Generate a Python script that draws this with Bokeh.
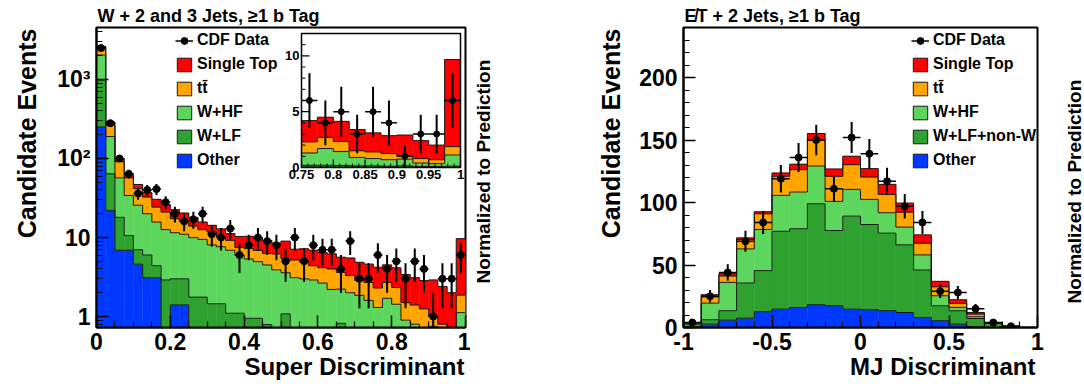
import math
import numpy as np
from bokeh.plotting import figure
from bokeh.layouts import row
from bokeh.models import (Range1d, LinearScale, FixedTicker, Legend, LegendItem, Title)
from bokeh.core.properties import value
from bokeh.embed import file_html
from bokeh.resources import INLINE

FONT = "Liberation Sans"

# ---------------- Left panel: Super Discriminant (40 bins, width 0.025) ----------------
sd_bin_lo = [0.000, 0.025, 0.050, 0.075, 0.100, 0.125, 0.150, 0.175, 0.200, 0.225,
             0.250, 0.275, 0.300, 0.325, 0.350, 0.375, 0.400, 0.425, 0.450, 0.475,
             0.500, 0.525, 0.550, 0.575, 0.600, 0.625, 0.650, 0.675, 0.700, 0.725,
             0.750, 0.775, 0.800, 0.825, 0.850, 0.875, 0.900, 0.925, 0.950, 0.975]
sd_bin_width = 0.025
sd_other = [250, 22, 6.9, 6.9, 4.6, 3.1, 3.1, 0.5, 1.4, 1.4,
            0.35, 0.3, 0.25, 0.2, 0.2, 0.15, 0.15, 0.12, 0.1, 0.1,
            0.1, 0.08, 0.08, 0.07, 0.06, 0.05, 0.05, 0.05, 0.04, 0.04,
            0.04, 0.03, 0.03, 0.03, 0.02, 0.02, 0.02, 0.02, 0.02, 0.02]
sd_wlf = [730, 42, 11.1, 3.7, 2.4, 2.9, 1.3, 2.4, 1.6, 1.6,
          1.41, 1.46, 1.2, 1.25, 0.9, 0.95, 0.8, 0.83, 0.69, 0.5,
          0.98, 0.52, 0.42, 0.43, 0.39, 0.35, 0.77, 0.35, 0.31, 0.26,
          0.16, 0.17, 0.15, 0.12, 0.13, 0.1, 0.13, 0.08, 0.08, 0.1]
sd_whf = [1060, 126, 39, 23.4, 18.6, 14, 11.3, 9.7, 8.5, 8.0,
          8.2, 7.7, 6.6, 6.2, 5.8, 4.9, 4.4, 4.0, 3.7, 3.3,
          2.5, 2.5, 2.5, 2.4, 2.2, 1.8, 1.4, 1.6, 1.5, 1.3,
          1.1, 1.5, 1.25, 0.75, 0.65, 0.58, 0.6, 0.3, 0.25, 1.0]
sd_tt = [520, 73, 34, 23, 16, 12.5, 8.6, 8.4, 5.8, 5.0,
         4.0, 3.1, 3.7, 2.6, 2.3, 1.5, 1.9, 1.9, 1.8, 2.3,
         1.8, 2.1, 1.9, 1.5, 1.5, 1.8, 1.4, 1.3, 1.0, 1.1,
         1.0, 1.0, 0.9, 0.6, 0.6, 0.55, 0.25, 0.4, 0.35, 0.75]
sd_stop = [60, 27, 9, 7, 5.3, 4.5, 6.1, 5.0, 5.2, 4.4,
           4.0, 3.1, 2.5, 2.6, 2.0, 2.8, 3.1, 3.0, 2.9, 2.3,
           3.6, 1.9, 2.3, 2.5, 2.3, 2.2, 2.0, 2.2, 2.0, 1.9,
           1.9, 1.8, 1.8, 1.9, 1.7, 1.6, 1.9, 1.6, 1.3, 7.8]
sd_data = [2500, 280, 100, 64, 36, 40, 41, 28, 20, 16,
           17, 20, 11, 10, 13, 6, 8, 10, 9, 8,
           5, 10, 5, 8, 7, 7, 4, 9, 3, 3,
           6, 4, 5, 3, 5, 4, 1, 3, 3, 6]
sd_xticks = [0, 0.2, 0.4, 0.6, 0.8, 1.0]
sd_xlabels = ["0", "0.2", "0.4", "0.6", "0.8", "1"]
sd_yticks = [1, 10, 100, 1000]
sd_ylabels = ["1", "10", "10\u00b2", "10\u00b3"]
inset_xticks = [0.75, 0.8, 0.85, 0.9, 0.95, 1.0]
inset_xlabels = ["0.75", "0.8", "0.85", "0.9", "0.95", "1"]
inset_yticks = [0, 5, 10]
inset_ylabels = ["0", "5", "10"]

# ---------------- Right panel: MJ Discriminant (20 bins, width 0.1) ----------------
mj_bin_lo = [-1.0, -0.9, -0.8, -0.7, -0.6, -0.5, -0.4, -0.3, -0.2, -0.1,
             0.0, 0.1, 0.2, 0.3, 0.4, 0.5, 0.6, 0.7, 0.8, 0.9]
mj_bin_width = 0.1
mj_other = [0.5, 2.7, 5.9, 7.5, 12.6, 14.7, 16.0, 18.2, 17.4, 14.7,
            14.2, 13.4, 12.0, 8.0, 5.4, 2.7, 0.8, 0.3, 0.1, 0.0]
mj_wlf = [2.2, 3.5, 7.5, 28.1, 32.9, 62.3, 63.0, 80.8, 60.2, 74.4,
          68.2, 62.1, 54.1, 38.0, 12.0, 10.7, 6.4, 2.9, 0.7, 0.0]
mj_whf = [0.8, 13.3, 22.7, 27.3, 32.9, 28.7, 29.4, 30.2, 23.3, 21.4,
          20.1, 16.3, 14.2, 12.1, 8.0, 2.7, 1.4, 0.3, 0.1, 0.0]
mj_tt = [0.3, 5.0, 5.1, 7.5, 12.6, 15.3, 17.9, 20.7, 20.1, 19.8,
         17.9, 14.7, 12.0, 9.3, 7.2, 3.2, 2.1, 0.2, 0.1, 0.0]
mj_stop = [0.2, 1.7, 1.8, 1.3, 1.6, 2.6, 4.3, 5.3, 5.8, 6.7,
           6.7, 8.0, 7.2, 6.7, 4.3, 2.9, 1.3, 0.2, 0.0, 0.0]
mj_data = [4, 25, 44, 69, 84, 119, 136, 150, 111, 152,
           139, 117, 97, 84, 29, 28, 15, 4, 1, 0]
mj_xticks = [-1, -0.5, 0, 0.5, 1]
mj_xlabels = ["-1", "-0.5", "0", "0.5", "1"]
mj_yticks = [0, 50, 100, 150, 200]
mj_ylabels = ["0", "50", "100", "150", "200"]

left_legend = ["Single Top", "tt\u0304", "W+HF", "W+LF", "Other"]
right_legend = ["Single Top", "tt\u0304", "W+HF", "W+LF+non-W", "Other"]
COLORS = ["#FF0000", "#FFA500", "#5CD65C", "#2EA12E", "#0038FF"]  # stop, tt, whf, wlf, other
EDGE = "#1a1a1a"
NAN = float("nan")

# ---------------- helpers ----------------
def draw_stack(p, lo, width, layers, colors, floor, **rn):
    lo = np.array(lo, float)
    right = lo + width
    cum = np.zeros(len(lo))
    tops = []
    for vals, col in zip(layers, colors):
        top = cum + np.array(vals, float)
        p.quad(left=lo, right=right, bottom=np.maximum(cum, floor), top=np.maximum(top, floor),
               fill_color=col, line_color=col, line_width=0.5, **rn)
        tops.append(top)
        cum = top
    edges = list(lo) + [right[-1]]
    for top in tops:
        yy = list(np.maximum(top, floor)) + [max(top[-1], floor)]
        p.step(x=edges, y=yy, mode="after", line_color=EDGE, line_width=1, **rn)


def draw_data(p, lo, width, data, floor, size, **rn):
    d = np.array(data, float)
    c = np.array(lo, float) + width / 2
    m = d > 0
    d, c = d[m], c[m]
    err = np.sqrt(d)
    p.segment(x0=c, y0=np.maximum(d - err, floor), x1=c, y1=d + err,
              line_color="black", line_width=2, **rn)
    h = p.segment(x0=c - width / 2, y0=d, x1=c + width / 2, y1=d,
                  line_color="black", line_width=1.5, **rn)
    s = p.scatter(x=c, y=d, size=size, color="black", **rn)
    return [h, s]


def style_axes(p, xt, xl, xminor, yt, yl, yminor):
    p.xaxis.ticker = FixedTicker(ticks=xt, minor_ticks=xminor)
    p.yaxis.ticker = FixedTicker(ticks=yt, minor_ticks=yminor)
    p.xaxis.major_label_overrides = {t: s for t, s in zip(xt, xl)}
    p.yaxis.major_label_overrides = {t: s for t, s in zip(yt, yl)}
    for ax in p.axis:
        ax.major_tick_in = 12
        ax.major_tick_out = 0
        ax.minor_tick_in = 6
        ax.minor_tick_out = 0
        ax.axis_line_width = 2
        ax.major_tick_line_width = 1.5
        ax.minor_tick_line_width = 1.2
        ax.major_label_text_font = FONT
        ax.major_label_text_font_style = "bold"
        ax.major_label_text_font_size = "23px"
        ax.major_label_text_color = "black"
    p.xaxis.major_label_standoff = 5
    p.yaxis.major_label_standoff = 6
    p.xgrid.visible = False
    p.ygrid.visible = False
    p.outline_line_color = "black"
    p.outline_line_width = 2


def side_title(p, side, text, size, align, valign, standoff, offset=0):
    p.add_layout(Title(text=text, align=align, vertical_align=valign, standoff=standoff,
                       offset=offset, text_font=FONT, text_font_style="bold",
                       text_font_size=size, text_color="black"), side)


def set_title(p, text):
    p.title.text = text
    p.title.align = "left"
    p.title.text_font = FONT
    p.title.text_font_style = "bold"
    p.title.text_font_size = "18px"
    p.title.text_color = "black"
    p.title.standoff = 4
    p.title.offset = 1


def add_legend(p, labels, data_rends, x, y):
    items = [LegendItem(label="CDF Data", renderers=data_rends)]
    for lab, col in zip(labels, COLORS):
        # legend swatch only (NaN geometry draws nothing in the plot area)
        r = p.quad(left=[NAN], right=[NAN], top=[NAN], bottom=[NAN],
                   fill_color=col, line_color=EDGE, line_width=1)
        items.append(LegendItem(label=lab, renderers=[r]))
    leg = Legend(items=items, location=(x, y), glyph_width=18, glyph_height=17,
                 label_height=17, spacing=6, padding=0, margin=0, label_standoff=4,
                 label_text_font=FONT, label_text_font_style="bold", label_text_font_size="16px",
                 label_text_color="black", border_line_alpha=0, background_fill_alpha=0)
    p.add_layout(leg)


def side_label_figure(text, offset):
    """Narrow strip that only carries a vertical side text reading bottom-to-top."""
    f = figure(frame_width=1, frame_height=300, output_backend="svg", toolbar_location=None,
               x_axis_location=None, y_axis_location=None,
               min_border_left=24, min_border_right=0, min_border_top=27, min_border_bottom=62,
               background_fill_color="white", border_fill_color="white", outline_line_color=None)
    f.xgrid.visible = False
    f.ygrid.visible = False
    side_title(f, "left", text, "19px", "left", "middle", 0, offset)
    return f

# ---------------- left figure ----------------
FW1, FH = 369, 300
p1 = figure(frame_width=FW1, frame_height=FH, x_range=Range1d(0, 1), y_range=Range1d(0.726, 4550),
            y_axis_type="log", output_backend="svg", toolbar_location=None,
            min_border_left=94, min_border_right=5, min_border_top=27, min_border_bottom=62,
            background_fill_color="white", border_fill_color="white")
style_axes(p1, sd_xticks, sd_xlabels,
           [0.05, 0.1, 0.15, 0.25, 0.3, 0.35, 0.45, 0.5, 0.55, 0.65, 0.7, 0.75, 0.85, 0.9, 0.95],
           sd_yticks, sd_ylabels,
           [0.8, 0.9] + [k * 10 ** e for e in range(0, 3) for k in range(2, 10)] + [2000, 3000, 4000])

layers_sd = [sd_other, sd_wlf, sd_whf, sd_tt, sd_stop]
colors_stack = COLORS[::-1]
draw_stack(p1, sd_bin_lo, sd_bin_width, layers_sd, colors_stack, 0.01)
data1 = draw_data(p1, sd_bin_lo, sd_bin_width, sd_data, 0.1, 7)

# inset (linear scales mapped onto a sub-rectangle of the frame)
in_l, in_r, in_t, in_b = 205, 364, 6, 140   # px inside frame
kx = (inset_xticks[-1] - inset_xticks[0]) / (in_r - in_l)
ky = 12.0 / (in_b - in_t)
p1.extra_x_ranges = {"ix": Range1d(inset_xticks[0] - in_l * kx, inset_xticks[0] + (FW1 - in_l) * kx)}
p1.extra_y_ranges = {"iy": Range1d(-(FH - in_b) * ky, 12 + in_t * ky)}
p1.extra_x_scales = {"ix": LinearScale()}
p1.extra_y_scales = {"iy": LinearScale()}
rn = dict(x_range_name="ix", y_range_name="iy")
p1.quad(left=[0.75], right=[1.0], bottom=[0], top=[12], fill_color="white", line_color=None, **rn)
sel = [i for i, v in enumerate(sd_bin_lo) if v >= 0.75 - 1e-9]
draw_stack(p1, [sd_bin_lo[i] for i in sel], sd_bin_width,
           [[lay[i] for i in sel] for lay in layers_sd], colors_stack, 0.0, **rn)
draw_data(p1, [sd_bin_lo[i] for i in sel], sd_bin_width, [sd_data[i] for i in sel], 0.0, 6, **rn)
p1.quad(left=[0.75], right=[1.0], bottom=[0], top=[12], fill_color=None, line_color="black", line_width=1.5, **rn)
ymaj = inset_yticks
ymin = [v for v in range(1, 12) if v not in inset_yticks]
p1.segment(x0=[0.75] * len(ymaj), y0=ymaj, x1=[0.75 + 8 * kx] * len(ymaj), y1=ymaj, line_color="black", line_width=1.2, **rn)
p1.segment(x0=[0.75] * len(ymin), y0=ymin, x1=[0.75 + 4 * kx] * len(ymin), y1=ymin, line_color="black", line_width=1, **rn)
xmin = [0.75 + 0.01 * k for k in range(1, 25) if k % 5 != 0]
p1.segment(x0=inset_xticks, y0=[0] * 6, x1=inset_xticks, y1=[8 * ky] * 6, line_color="black", line_width=1.2, **rn)
p1.segment(x0=xmin, y0=[0] * len(xmin), x1=xmin, y1=[4 * ky] * len(xmin), line_color="black", line_width=1, **rn)
p1.text(x=[0.75] * 3, y=inset_yticks, text=inset_ylabels, x_offset=-2, text_align="right",
        text_baseline="middle", text_font=value(FONT), text_font_style="bold", text_font_size="13px", **rn)
p1.text(x=inset_xticks, y=[0] * 6, text=inset_xlabels, y_offset=2, text_align="center",
        text_baseline="top", text_font=value(FONT), text_font_style="bold", text_font_size="13px", **rn)

add_legend(p1, left_legend, data1, 79, 158)
set_title(p1, "W + 2 and 3 Jets, \u22651 b Tag")
side_title(p1, "left", "Candidate Events", "25px", "right", "top", 24, 1)
side_title(p1, "below", "Super Discriminant", "24px", "right", "top", 0, 1)

# ---------------- right figure ----------------
FW2 = 354
p2 = figure(frame_width=FW2, frame_height=FH, x_range=Range1d(-1, 1), y_range=Range1d(0, 240),
            output_backend="svg", toolbar_location=None,
            min_border_left=188, min_border_right=24, min_border_top=27, min_border_bottom=62,
            background_fill_color="white", border_fill_color="white")
style_axes(p2, mj_xticks, mj_xlabels,
           [-0.9, -0.8, -0.7, -0.6, -0.4, -0.3, -0.2, -0.1, 0.1, 0.2, 0.3, 0.4, 0.6, 0.7, 0.8, 0.9],
           mj_yticks, mj_ylabels,
           [v for v in range(10, 240, 10) if v % 50 != 0])
layers_mj = [mj_other, mj_wlf, mj_whf, mj_tt, mj_stop]
draw_stack(p2, mj_bin_lo, mj_bin_width, layers_mj, colors_stack, 0.0)
data2 = draw_data(p2, mj_bin_lo, mj_bin_width, mj_data, 0.0, 7)

add_legend(p2, right_legend, data2, 228, 158)
set_title(p2, "E\u0338T + 2 Jets, \u22651 b Tag")
side_title(p2, "left", "Candidate Events", "25px", "right", "top", 20, 1)
side_title(p2, "below", "MJ Discriminant", "24px", "right", "top", 0, 2)

s1 = side_label_figure("Normalized to Prediction", 44)
s2 = side_label_figure("Normalized to Prediction", 24)

layout = row(p1, s1, p2, s2)
open("out.html", "w").write(file_html(layout, INLINE))
